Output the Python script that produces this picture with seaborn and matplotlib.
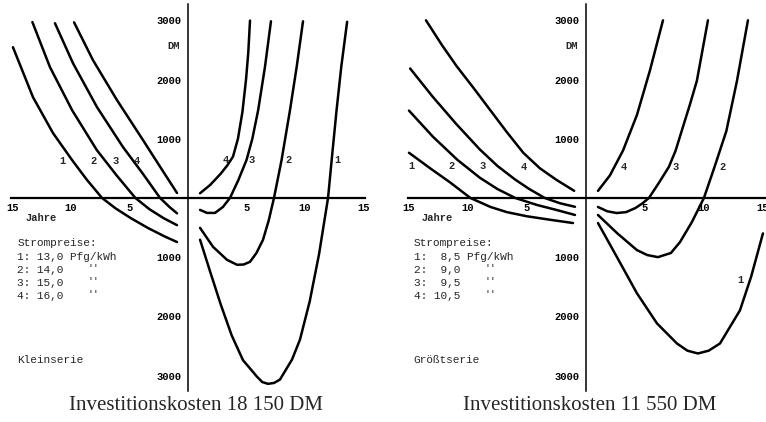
import matplotlib
matplotlib.use("Agg")
import matplotlib.pyplot as plt
import seaborn as sns
import pandas as pd
from matplotlib.ticker import FixedLocator

# ---------------- data (x: Jahre, negative = left half; y: DM, negative = lower half)
# Kleinserie (Investitionskosten 18 150 DM)
klein_1L_x = [-14.96, -13.25, -11.54, -9.91, -8.63, -7.35, -6.2, -4.9, -3.4, -2.0, -0.94]
klein_1L_y = [2545, 1702, 1096, 640, 303, 0, -175, -340, -510, -650, -745]
klein_2L_x = [-13.3, -11.8, -9.9, -7.8, -6.1, -4.5, -3.3, -2.1, -0.94]
klein_2L_y = [2970, 2210, 1480, 810, 380, 0, -190, -340, -460]
klein_3L_x = [-11.37, -9.83, -7.78, -5.56, -3.9, -2.39, -1.6, -0.94]
klein_3L_y = [2950, 2275, 1534, 860, 420, 0, -150, -260]
klein_4L_x = [-9.74, -8.12, -6.07, -3.85, -2.3, -0.94]
klein_4L_y = [2966, 2326, 1652, 978, 500, 84]
klein_1R_x = [1.03, 1.9, 2.8, 3.73, 4.7, 5.9, 6.35, 6.84, 7.35, 7.86, 8.89, 9.57, 10.4, 11.2,
              11.97, 12.28, 12.7, 13.1, 13.6]
klein_1R_y = [-706, -1250, -1800, -2320, -2740, -3020, -3110, -3140, -3125, -3068, -2730, -2393,
              -1750, -950, 0, 642, 1486, 2215, 2975]
klein_2R_x = [1.03, 2.14, 3.33, 4.19, 4.75, 5.3, 5.85, 6.41, 6.9, 7.35, 8.0, 8.72, 9.29, 9.83]
klein_2R_y = [-506, -826, -1045, -1129, -1125, -1079, -930, -708, -380, 0, 642, 1486, 2215, 2983]
klein_3R_x = [1.03, 1.62, 2.31, 2.99, 3.59, 4.3, 5.0, 5.5, 6.0, 6.58, 7.09]
klein_3R_y = [-202, -253, -253, -152, 0, 300, 640, 1000, 1486, 2215, 2983]
klein_4R_x = [1.03, 1.9, 2.8, 3.4, 3.85, 4.27, 4.65, 4.96, 5.15, 5.3]
klein_4R_y = [79, 220, 410, 560, 700, 1000, 1450, 2000, 2450, 2995]

# Größtserie (Investitionskosten 11 550 DM)
gross_1L_x = [-15.0, -13.2, -11.5, -9.8, -8.1, -6.7, -5.0, -3.0, -1.1]
gross_1L_y = [763, 500, 260, 0, -152, -240, -310, -370, -424]
gross_2L_x = [-15.0, -12.97, -10.9, -8.98, -7.5, -6.0, -4.15, -2.5, -0.93]
gross_2L_y = [1475, 1034, 644, 339, 150, 0, -119, -203, -288]
gross_3L_x = [-14.9, -13.0, -11.0, -9.0, -7.5, -6.0, -4.8, -3.5, -2.2, -0.93]
gross_3L_y = [2186, 1712, 1250, 820, 540, 310, 150, 0, -90, -150]
gross_4L_x = [-13.56, -12.2, -10.96, -9.5, -8.14, -6.7, -5.3, -3.9, -2.5, -1.0]
gross_4L_y = [3000, 2580, 2225, 1850, 1490, 1110, 760, 500, 305, 120]
gross_1R_x = [1.02, 2.63, 4.32, 6.02, 7.71, 8.6, 9.49, 10.4, 11.36, 13.05, 14.0, 15.0]
gross_1R_y = [-424, -1000, -1610, -2119, -2458, -2580, -2627, -2580, -2458, -1900, -1330, -600]
gross_2R_x = [1.02, 2.63, 4.32, 5.2, 6.1, 7.2, 7.97, 8.98, 10.0, 10.9, 11.9, 12.8, 13.73]
gross_2R_y = [-288, -593, -881, -965, -1000, -930, -746, -407, 0, 525, 1130, 1977, 3000]
gross_3R_x = [1.02, 1.8, 2.6, 3.4, 4.2, 4.8, 5.34, 6.2, 7.03, 7.6, 8.2, 8.8, 9.4, 10.34]
gross_3R_y = [-153, -225, -255, -240, -170, -90, 0, 260, 525, 800, 1186, 1570, 1977, 3000]
gross_4R_x = [1.02, 2.03, 3.14, 4.32, 5.42, 6.53]
gross_4R_y = [119, 380, 800, 1400, 2150, 3000]

x_ticks = [-15, -10, -5, 5, 10, 15]
y_ticks = [-3000, -2000, -1000, 1000, 2000, 3000]
klein_prices = ["13,0", "14,0", "15,0", "16,0"]
gross_prices = [" 8,5", " 9,0", " 9,5", "10,5"]
titles = ["Investitionskosten 18 150 DM", "Investitionskosten 11 550 DM"]
series_names = ["Kleinserie", "Größtserie"]

# curve-number label anchors (years, DM)
klein_lab = [(-10.7, 625, "1"), (-8.1, 625, "2"), (-6.15, 625, "3"), (-4.36, 625, "4"),
             (3.25, 640, "4"), (5.4, 640, "3"), (8.6, 640, "2"), (12.8, 640, "1")]
gross_lab = [(-14.75, 545, "1"), (-11.4, 545, "2"), (-8.8, 545, "3"), (-5.25, 530, "4"),
             (3.2, 530, "4"), (7.6, 530, "3"), (11.6, 530, "2"), (13.05, -1390, "1")]


def frame(prefix):
    rows = []
    for side in ["L", "R"]:
        for k in range(1, 5):
            xs = globals()[f"{prefix}_{k}{side}_x"]
            ys = globals()[f"{prefix}_{k}{side}_y"]
            for xv, yv in zip(xs, ys):
                rows.append({"x": xv, "y": yv, "seg": f"{k}{side}"})
    return pd.DataFrame(rows)


sns.set_style("white")
plt.rcParams["font.family"] = ["Liberation Mono", "DejaVu Sans"]

fig = plt.figure(figsize=(7.66, 4.22), dpi=100)
ax_l = fig.add_axes([0.00868, 0.082, 0.4735, 0.912])
ax_r = fig.add_axes([0.5262, 0.082, 0.4775, 0.912])

tick_font = dict(family="Liberation Mono", size=7.5, weight="bold")
txt_font = dict(family="Liberation Mono", size=8)

for ax, prefix, prices, name, labs, xbound in [
    (ax_l, "klein", klein_prices, series_names[0], klein_lab, 15.1),
    (ax_r, "gross", gross_prices, series_names[1], gross_lab, 15.6),
]:
    df = frame(prefix)
    sns.lineplot(data=df, x="x", y="y", units="seg", estimator=None, sort=False,
                 color="black", linewidth=1.8, ax=ax, legend=False)
    for ln in ax.get_lines():
        ln.set_solid_joinstyle("round")
        ln.set_solid_capstyle("round")
    ax.set_xlim(-15.5, 15.5)
    ax.set_ylim(-3200, 3300)
    ax.set_xlabel("")
    ax.set_ylabel("")
    ax.patch.set_alpha(0)
    for s in ["top", "right"]:
        ax.spines[s].set_visible(False)
    ax.spines["left"].set_position("zero")
    ax.spines["bottom"].set_position("zero")
    ax.spines["left"].set_bounds(-3260, 3280)
    ax.spines["bottom"].set_bounds(-15.1, xbound)
    ax.spines["left"].set_linewidth(1.1)
    ax.spines["bottom"].set_linewidth(1.6)
    ax.spines["left"].set_color("black")
    ax.spines["bottom"].set_color("black")

    ax.set_xticks(x_ticks)
    ax.set_xticklabels([str(abs(v)) for v in x_ticks], **tick_font)
    ax.xaxis.set_minor_locator(FixedLocator([v for v in range(-15, 16) if v % 5 != 0]))
    ax.set_yticks(y_ticks)
    ax.set_yticklabels([str(abs(v)) for v in y_ticks], **tick_font)
    ax.yaxis.set_minor_locator(FixedLocator([-2500, -1500, -500, 500, 1500, 2500]))
    ax.tick_params(axis="x", which="major", direction="inout", length=4, width=1, pad=2, colors="black")
    ax.tick_params(axis="x", which="minor", direction="inout", length=3, width=1)
    ax.tick_params(axis="y", which="major", direction="out", length=3, width=1, pad=2, colors="black")
    ax.tick_params(axis="y", which="minor", direction="out", length=2, width=1)

    ax.text(-0.7, 2560, "DM", ha="right", va="center", **tick_font)
    ax.text(-13.9, -340, "Jahre", ha="left", va="center", **tick_font)
    ax.text(-14.6, -760, "Strompreise:", ha="left", va="center", **txt_font)
    row_y = [-997, -1216, -1436, -1655]
    for i, p in enumerate(prices):
        s = f"{i + 1}: {p}" + (" Pfg/kWh" if i == 0 else "")
        ax.text(-14.6, row_y[i], s, ha="left", va="center", **txt_font)
        if i > 0:
            ax.text(-8.6, row_y[i] + 20, "''", ha="left", va="center",
                    family="Liberation Mono", size=7)
    ax.text(-14.6, -2740, name, ha="left", va="center", **txt_font)
    for (lx, ly, t) in labs:
        ax.text(lx, ly, t, ha="center", va="center", **tick_font)

fig.text(196 / 766, 1 - 406 / 422, titles[0], ha="center", va="center",
         family="Liberation Serif", size=15)
fig.text(590 / 766, 1 - 406 / 422, titles[1], ha="center", va="center",
         family="Liberation Serif", size=15)

fig.savefig("out.png", dpi=100)
